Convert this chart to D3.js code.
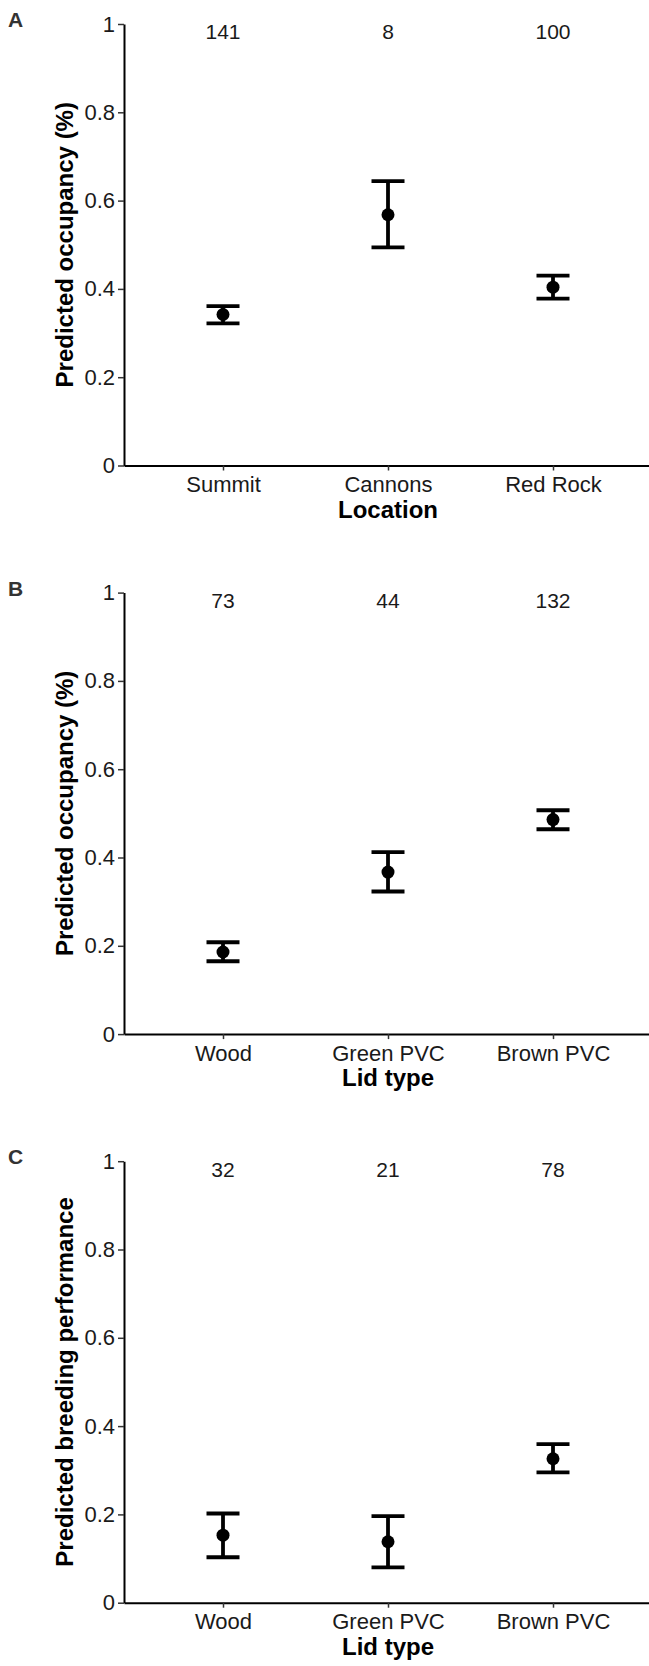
<!DOCTYPE html>
<html>
<head>
<meta charset="utf-8">
<script src="https://cdn.jsdelivr.net/npm/d3@7"></script>
<style>
  html, body { margin: 0; padding: 0; background: #fff; }
  svg { display: block; }
</style>
</head>
<body>
<svg id="chart" width="649" height="1666"></svg>
<script>
// ---- Data ----
const panelLetters = ["A", "B", "C"];
const xTitles = ["Location", "Lid type", "Lid type"];
const yTitles = ["Predicted occupancy (%)", "Predicted occupancy (%)", "Predicted breeding performance"];

const categoriesLocation = ["Summit", "Cannons", "Red Rock"];
const categoriesLid = ["Wood", "Green PVC", "Brown PVC"];

const meansA = [0.342, 0.568, 0.404];
const lowerA = [0.322, 0.494, 0.378];
const upperA = [0.361, 0.644, 0.430];
const countsA = [141, 8, 100];

const meansB = [0.186, 0.367, 0.486];
const lowerB = [0.165, 0.323, 0.464];
const upperB = [0.208, 0.412, 0.507];
const countsB = [73, 44, 132];

const meansC = [0.153, 0.138, 0.326];
const lowerC = [0.103, 0.080, 0.295];
const upperC = [0.202, 0.196, 0.359];
const countsC = [32, 21, 78];

const yTickValues = [0, 0.2, 0.4, 0.6, 0.8, 1];
const yTickLabels = ["0", "0.2", "0.4", "0.6", "0.8", "1"];

// ---- Layout ----
const panels = [
  { cats: categoriesLocation, mean: meansA, lo: lowerA, hi: upperA, n: countsA },
  { cats: categoriesLid, mean: meansB, lo: lowerB, hi: upperB, n: countsB },
  { cats: categoriesLid, mean: meansC, lo: lowerC, hi: upperC, n: countsC }
];

const svg = d3.select("#chart");
const font = "'Liberation Sans', Arial, Helvetica, sans-serif";
const pitch = 568.6;
const top0 = 24;
const plotH = 441.5;
const left = 124;
const right = 652;
const capHalf = 16.5;

panels.forEach((p, i) => {
  const yTop = top0 + i * pitch;
  const yBot = yTop + plotH;
  const g = svg.append("g");

  const x = d3.scalePoint().domain(p.cats).range([left, right]).padding(0.6);
  const y = d3.scaleLinear().domain([0, 1]).range([yBot, yTop]);

  // y axis
  const yAxis = g.append("g")
    .attr("transform", `translate(${left},0)`)
    .call(d3.axisLeft(y).tickValues(yTickValues)
      .tickFormat((d, k) => yTickLabels[k]).tickSize(6).tickSizeOuter(0).tickPadding(3));
  yAxis.select(".domain").attr("stroke", "#000").attr("stroke-width", 2);
  yAxis.selectAll(".tick line").attr("stroke", "#333").attr("stroke-width", 1.5);
  yAxis.selectAll(".tick text").attr("font-family", font).attr("font-size", 22).attr("fill", "#1a1a1a");

  // x axis
  const xAxis = g.append("g")
    .attr("transform", `translate(0,${yBot})`)
    .call(d3.axisBottom(x).tickSize(5).tickSizeOuter(0).tickPadding(6));
  xAxis.select(".domain").attr("stroke", "#000").attr("stroke-width", 2);
  xAxis.selectAll(".tick line").attr("stroke", "#333").attr("stroke-width", 1.5);
  xAxis.selectAll(".tick text").attr("font-family", font).attr("font-size", 22).attr("fill", "#1a1a1a");

  // error bars
  const idx = d3.range(p.cats.length);
  g.selectAll(".vline").data(idx).join("line")
    .attr("x1", k => x(p.cats[k])).attr("x2", k => x(p.cats[k]))
    .attr("y1", k => y(p.lo[k])).attr("y2", k => y(p.hi[k]))
    .attr("stroke", "#000").attr("stroke-width", 3.8);
  g.selectAll(".capHi").data(idx).join("line")
    .attr("x1", k => x(p.cats[k]) - capHalf).attr("x2", k => x(p.cats[k]) + capHalf)
    .attr("y1", k => y(p.hi[k])).attr("y2", k => y(p.hi[k]))
    .attr("stroke", "#000").attr("stroke-width", 3.8);
  g.selectAll(".capLo").data(idx).join("line")
    .attr("x1", k => x(p.cats[k]) - capHalf).attr("x2", k => x(p.cats[k]) + capHalf)
    .attr("y1", k => y(p.lo[k])).attr("y2", k => y(p.lo[k]))
    .attr("stroke", "#000").attr("stroke-width", 3.8);
  g.selectAll(".pt").data(idx).join("circle")
    .attr("cx", k => x(p.cats[k])).attr("cy", k => y(p.mean[k]))
    .attr("r", 6.5).attr("fill", "#000");

  // counts
  g.selectAll(".cnt").data(idx).join("text")
    .attr("x", k => x(p.cats[k])).attr("y", y(0.965))
    .attr("text-anchor", "middle")
    .attr("font-family", font).attr("font-size", 21).attr("fill", "#1a1a1a")
    .text(k => p.n[k]);

  // x title
  g.append("text")
    .attr("x", x(p.cats[1])).attr("y", yBot + 52)
    .attr("text-anchor", "middle")
    .attr("font-family", font).attr("font-size", 24).attr("font-weight", "bold").attr("fill", "#000")
    .text(xTitles[i]);

  // y title
  g.append("text")
    .attr("transform", `translate(73,${(yTop + yBot) / 2}) rotate(-90)`)
    .attr("text-anchor", "middle")
    .attr("font-family", font).attr("font-size", 24).attr("font-weight", "bold").attr("fill", "#000")
    .text(yTitles[i]);

  // panel letter
  g.append("text")
    .attr("x", 8).attr("y", yTop + 3)
    .attr("font-family", font).attr("font-size", 21).attr("font-weight", "bold").attr("fill", "#333")
    .text(panelLetters[i]);
});
</script>
</body>
</html>
